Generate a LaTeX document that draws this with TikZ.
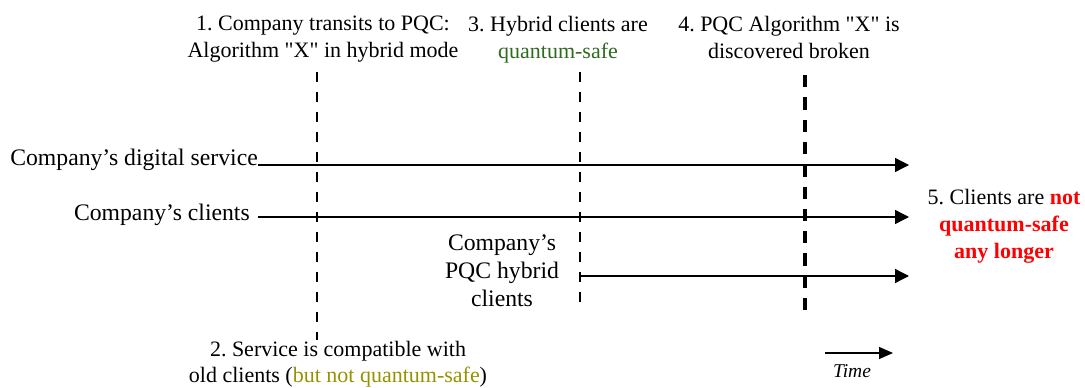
\documentclass[tikz,border=0pt]{standalone}
\usepackage{fontspec}
\setmainfont{Liberation Serif}[Ligatures=TeXOff]
\usetikzlibrary{arrows.meta}
\definecolor{safegreen}{RGB}{46,107,32}
\definecolor{oldolive}{RGB}{150,145,0}
\definecolor{alertred}{RGB}{255,0,0}
\begin{document}
\begin{tikzpicture}[x=1pt,y=-1pt,
  note/.style={inner sep=0pt,align=center,font=\fontsize{22}{27}\selectfont\frenchspacing},
  lanelabel/.style={inner sep=0pt,font=\fontsize{23.7}{28}\selectfont\frenchspacing},
  lane/.style={line width=1.3pt,-{Triangle[length=14pt,width=14pt]}},
  event/.style={line width=1.3pt,dash pattern=on 10pt off 10pt},
  breakevent/.style={line width=3.3pt,dash pattern=on 12.3pt off 10pt}]
\useasboundingbox (0,0) rectangle (1085,388);

% event labels
\node[note,anchor=north] (ev1) at (323,16)
  {1. Company transits to PQC:\\Algorithm "X" in hybrid mode};
\node[note,anchor=north] (ev3) at (558,16)
  {3. Hybrid clients are\\\textcolor{safegreen}{quantum-safe}};
\node[note,anchor=north] (ev4) at (789,16)
  {4. PQC Algorithm "X" is\\discovered broken};
\node[note,anchor=north] (ev5) at (1004,189)
  {5. Clients are \textcolor{alertred}{\bfseries not}\\
   \textcolor{alertred}{\bfseries quantum-safe}\\
   \textcolor{alertred}{\bfseries any longer}};
\node[note,anchor=north,font=\fontsize{22}{26}\selectfont\frenchspacing] (ev2) at (338,341)
  {2. Service is compatible with\\old clients (\textcolor{oldolive}{but not quantum-safe})};

% lane labels
\node[lanelabel,anchor=base east] (svc) at (258,165) {Company’s digital service};
\node[lanelabel,anchor=base east] (cli) at (250,220) {Company’s clients};
\node[lanelabel,align=center,anchor=north] (hyb) at (502,235)
  {Company’s\\PQC hybrid\\clients};

% event markers
\coordinate (e1top) at (317,72);   \coordinate (e1bot) at (317,340);
\coordinate (e3top) at (580,72);   \coordinate (e3bot) at (580,302);
\coordinate (e4top) at (805,75);   \coordinate (e4bot) at (805,310);
\draw[event] (e1top) -- (e1bot);
\draw[event] (e3top) -- (e3bot);
\draw[breakevent] (e4top) -- (e4bot);

% lanes
\coordinate (svcstart) at (258,165); \coordinate (svcend) at (909,165);
\coordinate (clistart) at (258,217); \coordinate (cliend) at (909,217);
\coordinate (hybstart) at (580,276); \coordinate (hybend) at (909,276);
\draw[lane] (svcstart) -- (svcend);
\draw[lane] (clistart) -- (cliend);
\draw[lane] (hybstart) -- (hybend);

% time legend
\coordinate (tstart) at (825,353); \coordinate (tend) at (893,353);
\draw[line width=1.3pt,-{Triangle[length=14pt,width=12pt]}] (tstart) -- (tend);
\node[inner sep=0pt,anchor=base,font=\fontsize{19.5}{23}\selectfont\itshape] (time) at (852,377) {Time};
\end{tikzpicture}
\end{document}
